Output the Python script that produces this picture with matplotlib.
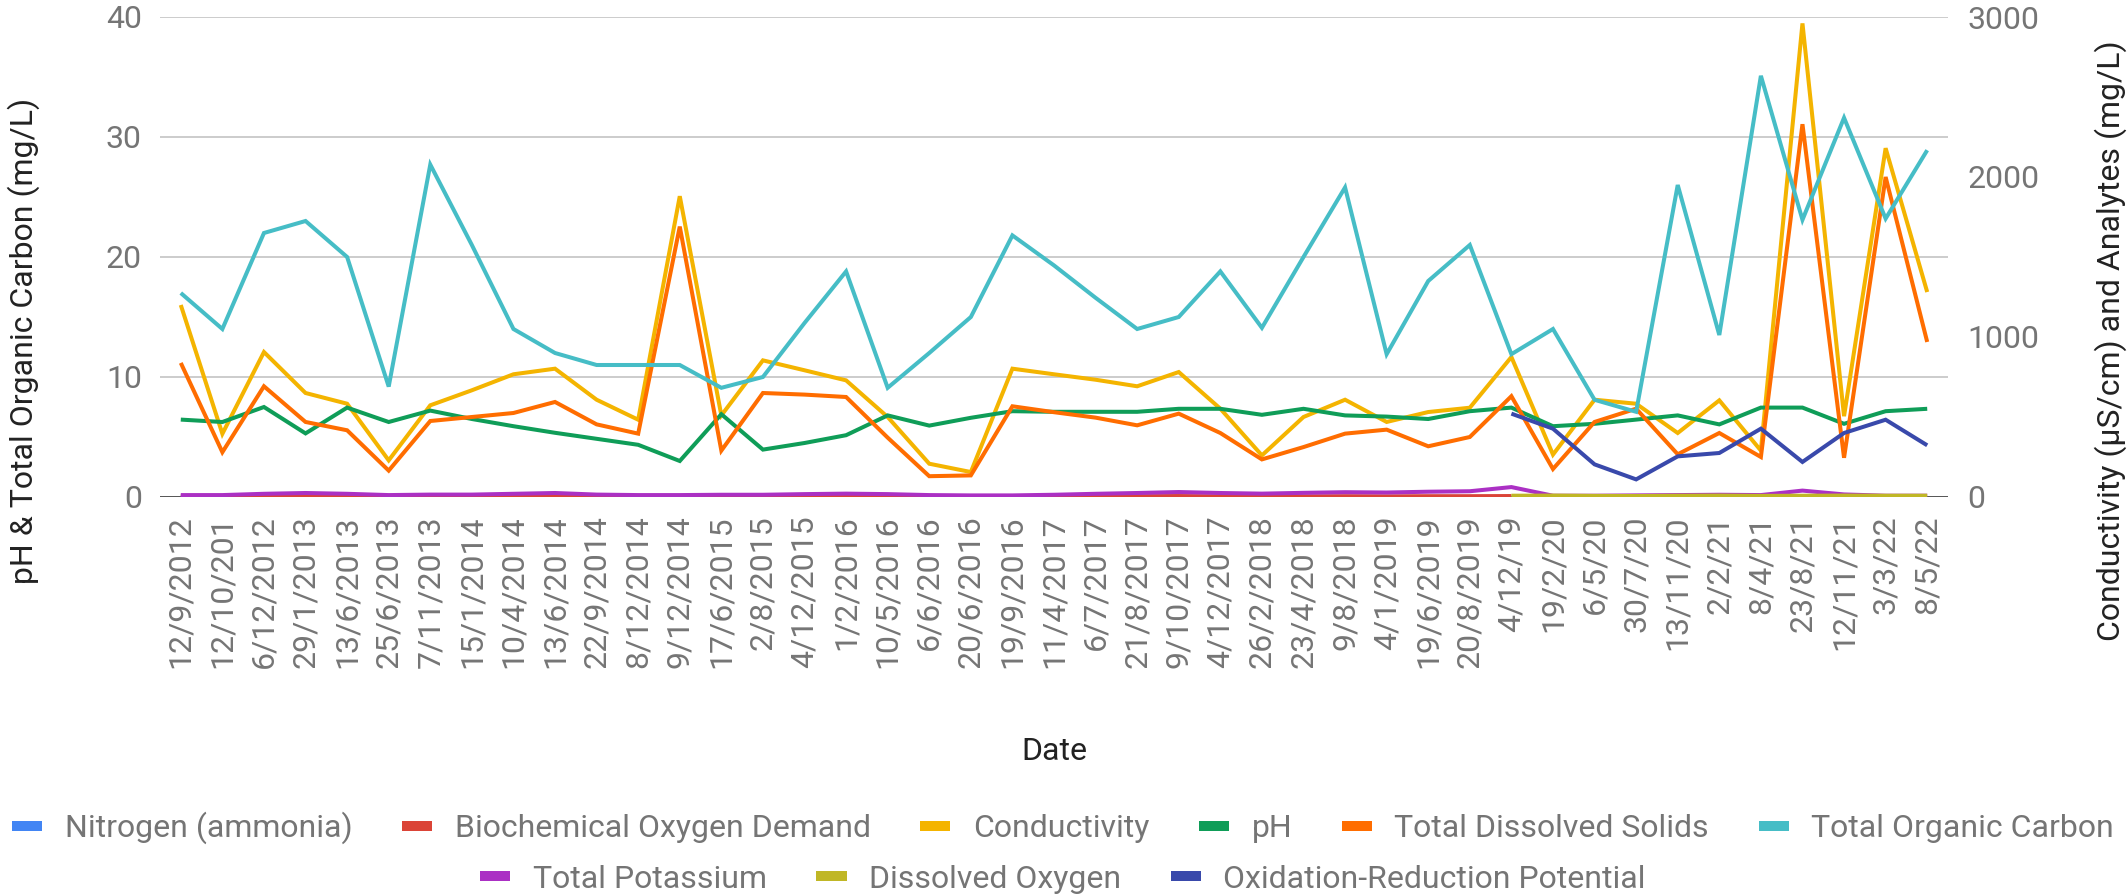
import numpy as np
import matplotlib
matplotlib.use("Agg")
import matplotlib.pyplot as plt
from matplotlib.lines import Line2D

nan = np.nan

dates = ["12/9/2012", "12/10/201", "6/12/2012", "29/1/2013", "13/6/2013", "25/6/2013",
         "7/11/2013", "15/1/2014", "10/4/2014", "13/6/2014", "22/9/2014", "8/12/2014",
         "9/12/2014", "17/6/2015", "2/8/2015", "4/12/2015", "1/2/2016", "10/5/2016",
         "6/6/2016", "20/6/2016", "19/9/2016", "11/4/2017", "6/7/2017", "21/8/2017",
         "9/10/2017", "4/12/2017", "26/2/2018", "23/4/2018", "9/8/2018", "4/1/2019",
         "19/6/2019", "20/8/2019", "4/12/19", "19/2/20", "6/5/20", "30/7/20", "13/11/20",
         "2/2/21", "8/4/21", "23/8/21", "12/11/21", "3/3/22", "8/5/22"]

# right axis (µS/cm and mg/L)
nitrogen = [0.5, 0.4, 0.6, 0.5, 0.4, 0.3, 0.5, 0.4, 0.5, 0.6, 0.4, 0.4, 0.7, 0.4, 0.5,
            0.4, 0.5, 0.4, 0.3, 0.3, 0.4, 0.5, 0.5, 0.6, 0.7, 0.5, 0.4, 0.5, 0.6, 0.5,
            0.6, 0.6, 0.7] + [nan] * 10
bod = [4, 3, 5, 4, 3, 2, 4, 3, 4, 5, 3, 3, 6, 3, 4, 3, 4, 3, 2, 2, 3, 4, 4, 5, 6, 4,
       3, 4, 5, 4, 5, 5, 6] + [nan] * 10
conductivity = [1200, 395, 906, 650, 583, 229, 573, 667, 767, 802, 608, 483, 1880, 510,
                854, 792, 729, 500, 208, 156, 802, 767, 733, 692, 781, 552, 260, 500,
                608, 469, 531, 558, 875, 265, 608, 583, 400, 604, 290, 2960, 505, 2180,
                1281]
tds = [838, 280, 692, 469, 417, 165, 475, 500, 525, 594, 454, 396, 1690, 290, 650, 640,
       625, 371, 130, 135, 567, 530, 496, 448, 521, 400, 235, 312, 396, 421, 317, 375,
       630, 175, 469, 552, 267, 400, 250, 2330, 245, 2000, 969]
potassium = [12, 12, 20, 25, 20, 12, 15, 15, 20, 25, 15, 12, 12, 14, 14, 18, 21, 18, 12,
             10, 10, 14, 20, 25, 31, 25, 21, 26, 30, 28, 33, 36, 62, 8, 8, 10, 12, 14,
             12, 40, 16, 8, 8]
dissolved_oxygen = [nan] * 32 + [8, 9, 7, 6, 8, 9, 7, 8, 9, 8, 8]
orp = [nan] * 32 + [521, 427, 204, 110, 254, 275, 427, 219, 400, 483, 323]

# left axis
ph = [6.45, 6.25, 7.5, 5.3, 7.45, 6.25, 7.2, 6.5, 5.9, 5.35, 4.85, 4.35, 3.0, 6.9, 3.95,
      4.5, 5.15, 6.8, 5.95, 6.6, 7.15, 7.1, 7.1, 7.1, 7.35, 7.35, 6.85, 7.35, 6.8, 6.7,
      6.5, 7.15, 7.45, 5.9, 6.1, 6.45, 6.8, 6.05, 7.45, 7.45, 6.1, 7.15, 7.35]
toc = [17, 14, 22, 23, 20, 9.2, 27.7, 21, 14, 12, 11, 11, 11, 9.1, 10, 14.5, 18.8, 9.1,
       12, 15, 21.8, 19.3, 16.6, 14, 15, 18.8, 14.1, 20, 25.8, 11.9, 18, 21, 11.9, 14,
       8.1, 7.1, 26.0, 13.5, 35.1, 23.1, 31.6, 23.2, 28.9]

series_names = ["Nitrogen (ammonia)", "Biochemical Oxygen Demand", "Conductivity", "pH",
                "Total Dissolved Solids", "Total Organic Carbon", "Total Potassium",
                "Dissolved Oxygen", "Oxidation-Reduction Potential"]
colors = ["#4285F4", "#DB4437", "#F4B400", "#0F9D58", "#FF6D00", "#46BDC6", "#AB30C4",
          "#C0B726", "#3949AB"]

W, H, DPI = 2128, 894, 100
plt.rcParams["font.family"] = ["Roboto", "DejaVu Sans"]
FS = 23
TFS = 23
TICK_C = "#757575"
TITLE_C = "#222222"
LW = 2.9

fig = plt.figure(figsize=(W / DPI, H / DPI), dpi=DPI)
L, R, B, T = 160 / W, 1948 / W, 1 - 497 / H, 1 - 17 / H
rect = [L, B, R - L, T - B]

x = np.arange(len(dates))
ax = fig.add_axes(rect)
ax.set_xlim(-0.5, len(dates) - 0.5)
ax.set_ylim(0, 40)
ax.set_yticks([0, 10, 20, 30, 40])
ax.grid(axis="y", color="#cccccc", lw=1.4)
ax.set_axisbelow(True)
ax.axhline(0, color="#333333", lw=1.8, zorder=2)
for s in ax.spines.values():
    s.set_visible(False)
ax.set_xticks(x)
ax.set_xticklabels(dates, rotation=90)
ax.tick_params(axis="x", length=0, pad=13, labelsize=FS, labelcolor=TICK_C)
ax.tick_params(axis="y", length=0, pad=13, labelsize=FS, labelcolor=TICK_C)

ax2 = ax.twinx()
ax2.set_ylim(0, 3000)
ax2.set_yticks([0, 1000, 2000, 3000])
for s in ax2.spines.values():
    s.set_visible(False)
ax2.tick_params(axis="y", length=0, pad=14, labelsize=FS, labelcolor=TICK_C)


def layer(ylim):
    a = fig.add_axes(rect, sharex=ax)
    a.set_ylim(*ylim)
    a.axis("off")
    a.patch.set_visible(False)
    return a


right_lim = (0, 3000)
left_lim = (0, 40)
data = [nitrogen, bod, conductivity, ph, tds, toc, potassium, dissolved_oxygen, orp]
which = ["R", "R", "R", "L", "R", "L", "R", "R", "R"]

# group consecutive series sharing an axis into layers, preserving draw order
current = None
cur_ax = None
for name, vals, col, w in zip(series_names, data, colors, which):
    if w != current:
        cur_ax = layer(right_lim if w == "R" else left_lim)
        current = w
    cur_ax.plot(x, vals, color=col, lw=LW, solid_joinstyle="miter",
                solid_capstyle="butt")

fig.text(24 / W, 1 - 341 / H, "pH & Total Organic Carbon (mg/L)", rotation=90,
         ha="center", va="center", fontsize=TFS, color=TITLE_C)
fig.text(2111 / W, 1 - 341 / H, "Conductivity (µS/cm) and Analytes (mg/L)", rotation=90,
         ha="center", va="center", fontsize=TFS, color=TITLE_C)
fig.text(1054 / W, 1 - 751 / H, "Date", ha="center", va="center", fontsize=TFS,
         color=TITLE_C)

handles = [Line2D([], [], color=c, lw=7.2, solid_capstyle="butt") for c in colors]
kw = dict(loc="center", frameon=False, fontsize=FS, handlelength=0.95,
          handletextpad=0.7, columnspacing=1.55, labelcolor=TICK_C, borderpad=0,
          borderaxespad=0)
fig.legend(handles[:6], series_names[:6], ncol=6,
           bbox_to_anchor=(1063 / W, 1 - 828 / H), **kw)
fig.legend(handles[6:], series_names[6:], ncol=3,
           bbox_to_anchor=(1063 / W, 1 - 879 / H), **kw)

fig.savefig("out.png", dpi=DPI)
